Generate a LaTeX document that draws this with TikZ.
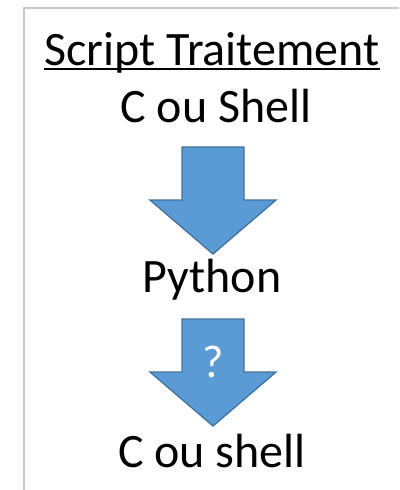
\documentclass[tikz,border=0pt]{standalone}
\usepackage{fontspec}
\setmainfont{Carlito}
\definecolor{arrowfill}{HTML}{5B9BD5}
\definecolor{arrowline}{HTML}{41719C}
\definecolor{framegray}{HTML}{C8C8C8}
\begin{document}
\begin{tikzpicture}[x=1pt,y=-1pt,
  lbl/.style={inner sep=0pt, anchor=base, font=\fontsize{48}{54}\selectfont},
  qmark/.style={inner sep=0pt, anchor=base, text=white, font=\fontsize{46}{52}\selectfont},
  arrowshape/.style={fill=arrowfill, draw=arrowline, line width=1.3pt, line join=miter},
  frameline/.style={draw=framegray, line width=1.5pt},
  pics/downarrow/.style={code={
    \path[arrowshape] (-31,0) -- (31,0) -- (31,53) -- (63,53) -- (0,107) -- (-63,53) -- (-31,53) -- cycle;
  }}]
\useasboundingbox (0,0) rectangle (399,490);
\fill[white] (0,0) rectangle (399,490);
\draw[frameline] (399,8) -- (24,8) -- (24,490);

\node[lbl] (title) at (212,65) {Script Traitement};
\draw[line width=2.2pt] ([yshift=-4pt]title.base west) -- ([yshift=-4pt]title.base east);
\node[lbl] (c1) at (216,122) {C ou Shell};

\pic at (213,147) {downarrow};
\coordinate (a1) at (213,147);

\node[lbl] (py) at (212,292) {Python};

\pic at (213,319) {downarrow};
\coordinate (a2) at (213,319);
\node[qmark] (q) at (213,377) {?};

\node[lbl] (c2) at (212,467) {C ou shell};
\end{tikzpicture}
\end{document}
